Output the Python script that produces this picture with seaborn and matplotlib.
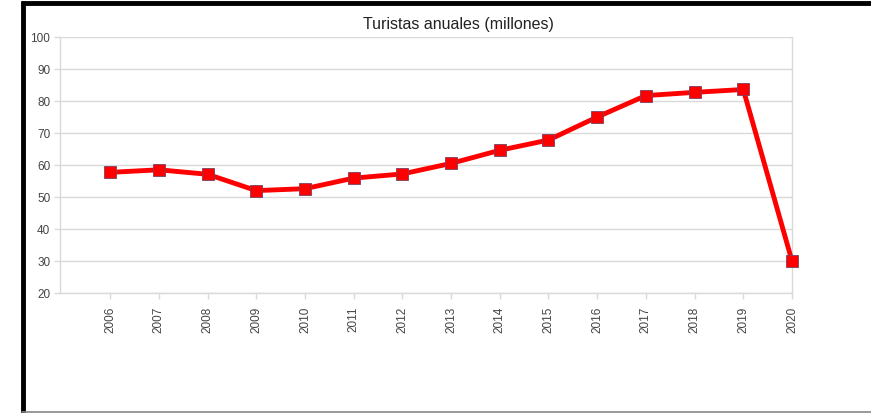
import numpy as np
import pandas as pd
import matplotlib
matplotlib.use('Agg')
import matplotlib.pyplot as plt
import seaborn as sns
from matplotlib.lines import Line2D

# data
years = [2006, 2007, 2008, 2009, 2010, 2011, 2012, 2013,
         2014, 2015, 2016, 2017, 2018, 2019, 2020]
turistas = [57.7, 58.5, 57.1, 52.0, 52.6, 55.9, 57.2, 60.5,
            64.6, 67.8, 75.0, 81.7, 82.7, 83.6, 30.0]
y_ticks = [20, 30, 40, 50, 60, 70, 80, 90, 100]
titulo = 'Turistas anuales (millones)'

df = pd.DataFrame({'year': years, 'turistas': turistas})

sns.set_style('white')
plt.rcParams['font.family'] = ['Liberation Sans', 'DejaVu Sans']

fig = plt.figure(figsize=(8.71, 4.14), dpi=100)
ax = fig.add_axes([60 / 871, 1 - 294 / 414, 732 / 871, 256 / 414])

sns.lineplot(data=df, x='year', y='turistas', ax=ax,
             color='#ff0000', linewidth=3.5, marker='s', markersize=8,
             markerfacecolor='#ff0000', markeredgecolor='#7a4060',
             markeredgewidth=0.6, zorder=3, clip_on=False)

ax.set_xlim(2004.97, 2020)
ax.set_ylim(20, 100)
ax.set_yticks(y_ticks)
ax.set_xticks(years)
ax.set_xticklabels([str(y) for y in years], rotation=90)
ax.yaxis.grid(True, color='#d9d9d9', linewidth=1.0)
ax.set_xlabel('')
ax.set_ylabel('')

for s in ax.spines.values():
    s.set_color('#d9d9d9')
    s.set_linewidth(1.0)
ax.spines['top'].set_visible(False)

ax.tick_params(axis='both', which='both', length=4, width=1,
               color='#d9d9d9', labelsize=8.5, labelcolor='#444444',
               bottom=True, left=True)
ax.tick_params(axis='x', pad=5)
ax.tick_params(axis='y', pad=3)

fig.text(458 / 871, 1 - 25 / 414, titulo, ha='center', va='center',
         fontsize=11.5, color='#222222')

# frame of the original screenshot
fig.add_artist(Line2D([22.5 / 871, 22.5 / 871], [0, 1 - 2 / 414],
                      transform=fig.transFigure, color='black',
                      linewidth=3.5, solid_capstyle='butt'))
fig.add_artist(Line2D([21 / 871, 1], [1 - 4 / 414, 1 - 4 / 414],
                      transform=fig.transFigure, color='black',
                      linewidth=3.5, solid_capstyle='butt'))
fig.add_artist(Line2D([22 / 871, 1], [1.5 / 414, 1.5 / 414],
                      transform=fig.transFigure, color='#888888', linewidth=1.2))

fig.savefig('out.png', dpi=100)
